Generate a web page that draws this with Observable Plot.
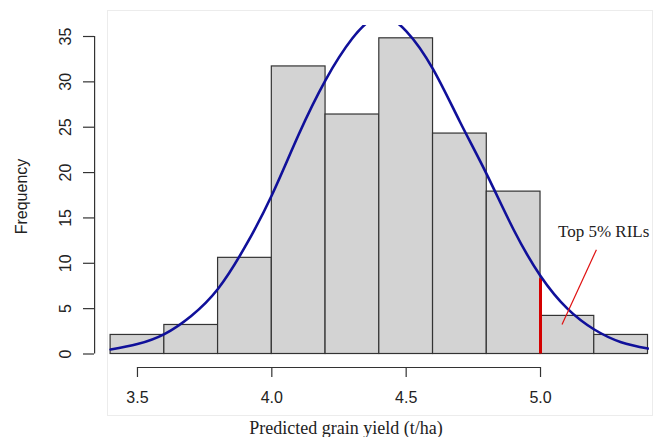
<!DOCTYPE html>
<html><head><meta charset="utf-8">
<script src="https://cdn.jsdelivr.net/npm/d3@7"></script>
<script src="https://cdn.jsdelivr.net/npm/@observablehq/plot@0.6"></script>
<style>
body{margin:0;background:#fff;}
#wrap{position:relative;width:659px;height:437px;overflow:hidden;}
#border{position:absolute;left:107px;top:10px;width:546px;height:406px;border:1px solid #ececec;box-sizing:border-box;pointer-events:none;}
</style></head><body>
<div id="wrap"><div id="border"></div></div>
<script>
// Histogram bins (t/ha) and bar heights
const binStart = [3.4, 3.6, 3.8, 4.0, 4.2, 4.4, 4.6, 4.8, 5.0, 5.2];
const binEnd   = [3.6, 3.8, 4.0, 4.2, 4.4, 4.6, 4.8, 5.0, 5.2, 5.4];
const frequency = [2.1, 3.2, 10.6, 31.7, 26.4, 34.8, 24.3, 17.9, 4.2, 2.1];

// Fitted normal curve
const curveX = [3.4, 3.5, 3.6, 3.7, 3.8, 3.9, 4.0, 4.1, 4.2, 4.3, 4.4, 4.5, 4.6, 4.7, 4.8, 4.9, 5.0, 5.1, 5.2, 5.3, 5.4];
const curveY = [0.5, 1.1, 2.2, 4.2, 7.2, 11.8, 17.5, 24.2, 30.2, 34.8, 37.2, 35.6, 31.4, 25.6, 19.8, 13.7, 8.6, 5.0, 2.7, 1.3, 0.6];

// Cut-off for top 5%
const cutoffX = [5.0];
const cutoffTop = [8.3];

// Annotation
const noteText = ["Top 5% RILs"];
const noteX = [5.235];
const noteY = [12.85];
const pointerX1 = [5.208], pointerY1 = [11.5];
const pointerX2 = [5.080], pointerY2 = [3.25];

// Axes
const xTicks = [3.5, 4.0, 4.5, 5.0];
const yTicks = [0, 5, 10, 15, 20, 25, 30, 35];
const xTitle = "Predicted grain yield (t/ha)";
const yTitle = "Frequency";

const bars = binStart.map((s, i) => ({x1: s, x2: binEnd[i], y: frequency[i]}));
const curve = curveX.map((x, i) => ({x, y: curveY[i]}));
const cutoff = cutoffX.map((x, i) => ({x, y2: cutoffTop[i]}));
const note = noteText.map((t, i) => ({t, x: noteX[i], y: noteY[i]}));
const pointer = pointerX1.map((x1, i) => ({x1, y1: pointerY1[i], x2: pointerX2[i], y2: pointerY2[i]}));

const sans = "'Liberation Sans', Arial, sans-serif";
const serif = "'Liberation Serif', 'Times New Roman', serif";
const ink = "#333";

const chart = Plot.plot({
  width: 659,
  height: 437,
  marginLeft: 94,
  marginRight: 10,
  marginTop: 25,
  marginBottom: 70,
  style: {fontFamily: sans, background: "transparent", color: "#222"},
  x: {domain: [3.4, 5.4], range: [110.1, 647.5]},
  y: {domain: [0, 35], range: [353.5, 36]},
  marks: [
    Plot.rect(bars, {x1: "x1", x2: "x2", y1: 0, y2: "y", fill: "#d3d3d3", stroke: ink, strokeWidth: 1.2}),
    Plot.ruleX(cutoff, {x: "x", y1: 0, y2: "y2", stroke: "#d40000", strokeWidth: 3}),
    Plot.line(curve, {x: "x", y: "y", curve: "natural", stroke: "#10109a", strokeWidth: 2.6, clip: true}),
    Plot.link(pointer, {x1: "x1", y1: "y1", x2: "x2", y2: "y2", stroke: "#e01010", strokeWidth: 1.2}),
    Plot.text(note, {x: "x", y: "y", text: "t", fontFamily: serif, fontSize: 17, fill: "#222", lineAnchor: "bottom", textAnchor: "middle"}),
    // x axis
    Plot.ruleY([0], {x1: xTicks[0], x2: xTicks[xTicks.length - 1], dy: 13.5, stroke: ink, strokeWidth: 1.2}),
    Plot.axisX(xTicks, {anchor: "bottom", tickSize: 10, tickPadding: 14, fontSize: 16, tickFormat: d3.format(".1f"), stroke: ink, strokeWidth: 1.2, label: null}),
    Plot.text([xTitle], {frameAnchor: "bottom", dy: 66, dx: -26, lineAnchor: "bottom", fontFamily: serif, fontSize: 18, fill: "#222"}),
    // y axis
    Plot.ruleX([binStart[0]], {y1: yTicks[0], y2: yTicks[yTicks.length - 1], dx: -16, stroke: ink, strokeWidth: 1.2}),
    Plot.axisY(yTicks, {anchor: "left", tickSize: 11, tickPadding: 13, tickRotate: -90, fontSize: 16, stroke: ink, strokeWidth: 1.2, label: yTitle, labelAnchor: "center", labelOffset: 79, labelArrow: "none"})
  ]
});
document.getElementById("wrap").prepend(chart);
</script>
</body></html>
